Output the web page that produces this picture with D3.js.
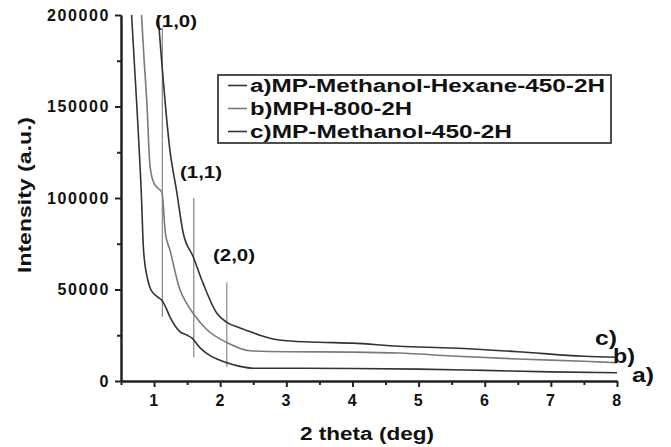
<!doctype html>
<html>
<head>
<meta charset="utf-8" />
<title>XRD</title>
<script src="https://cdn.jsdelivr.net/npm/d3@7"></script>
<style>
  html, body { margin: 0; padding: 0; background: #fff; }
  svg { display: block; }
  text { font-family: "Liberation Sans", Arial, sans-serif; font-weight: bold; fill: #111; }
</style>
</head>
<body>
<svg id="chart" width="671" height="447"></svg>
<script>
// values: [2 theta, intensity]
var curveA = [[0.66,200000],[0.74,150000],[0.81,100000],[0.84,72000],[0.90,56000],[0.95,50000],[1.05,46000],
  [1.12,44000],[1.18,40000],[1.24,35000],[1.39,27000],[1.5,25000],[1.57,23500],[1.7,18000],[1.8,15000],
  [1.95,12000],[2.1,10000],[2.3,8000],[2.5,7000],[3,7000],[4,6800],[5,6500],[6,5800],[7,5000],[8,4500]];
var curveB = [[0.81,200000],[0.85,175000],[0.89,153000],[0.94,117000],[1.0,108000],[1.04,106000],[1.12,103000],
  [1.17,81000],[1.24,71600],[1.39,50000],[1.5,42000],[1.59,37000],[1.8,28000],[2.1,21000],[2.45,16500],
  [3,16000],[4,15800],[4.7,15300],[5.5,13700],[6.5,12000],[7.5,10800],[8,10000]];
var curveC = [[1.06,200000],[1.11,177000],[1.24,126000],[1.34,104000],[1.44,81000],[1.59,68000],[1.74,53500],
  [1.95,37000],[2.1,32000],[2.3,29000],[2.45,27000],[2.6,25000],[2.8,23000],[3.0,22000],[3.5,21200],[4,20700],
  [4.7,19000],[5.5,18000],[6.5,16000],[7.5,13500],[8,13000]];
// peak markers: position, top, bottom, label
var peaks = [[1.125,193000,35000,"(1,0)"],[1.6,100000,13000,"(1,1)"],[2.1,54000,7600,"(2,0)"]];
var legendNames = ["a)MP-Methanol-Hexane-450-2H","b)MPH-800-2H","c)MP-Methanol-450-2H"];
var endLabels = ["a)","b)","c)"];
var xTicks = [1,2,3,4,5,6,7,8];
var yTicks = [0,50000,100000,150000,200000];

var svg = d3.select("#chart");
var x = d3.scaleLinear().domain([0.5, 8]).range([121, 617]);
var y = d3.scaleLinear().domain([0, 200000]).range([381, 15]);

var line = d3.line()
  .x(function(d){ return x(d[0]); })
  .y(function(d){ return y(d[1]); })
  .curve(d3.curveMonotoneX);

// peak lines first, curves over them
svg.selectAll(".peak").data(peaks).enter().append("line")
  .attr("x1", function(d){ return x(d[0]); }).attr("x2", function(d){ return x(d[0]); })
  .attr("y1", function(d){ return y(d[1]); }).attr("y2", function(d){ return y(d[2]); })
  .attr("stroke", "#888").attr("stroke-width", 1.2);

var colors = ["#333", "#7a7a7a", "#333"];
[curveA, curveB, curveC].forEach(function(c, i){
  svg.append("path").attr("d", line(c))
    .attr("fill", "none").attr("stroke", colors[i]).attr("stroke-width", 1.6);
});

// axes
var yAxis = svg.append("g").attr("transform", "translate(121,0)")
  .call(d3.axisLeft(y).tickValues(yTicks).tickFormat(d3.format("d")).tickSize(6).tickSizeOuter(0).tickPadding(5));
var yMinor = svg.append("g").attr("transform", "translate(121,0)")
  .call(d3.axisLeft(y).tickValues([25000,75000,125000,175000]).tickFormat("").tickSize(4).tickSizeOuter(0));
var xAxis = svg.append("g").attr("transform", "translate(0,381)")
  .call(d3.axisBottom(x).tickValues(xTicks).tickSize(6).tickSizeOuter(0).tickPadding(8));
var xMinor = svg.append("g").attr("transform", "translate(0,381)")
  .call(d3.axisBottom(x).tickValues([0.5,1.5,2.5,3.5,4.5,5.5,6.5,7.5]).tickFormat("").tickSize(4).tickSizeOuter(0));
svg.selectAll(".domain, .tick line").attr("stroke", "#222").attr("stroke-width", 2);
svg.selectAll(".tick text").attr("font-size", 16).attr("fill", "#111")
  .style("letter-spacing", "1.6px");

// axis titles
svg.append("text").attr("x", 367).attr("y", 440).attr("text-anchor", "middle")
  .attr("font-size", 18).attr("textLength", 134).attr("lengthAdjust", "spacingAndGlyphs")
  .text("2 theta (deg)");
svg.append("text").attr("transform", "translate(31,195) rotate(-90)").attr("text-anchor", "middle")
  .attr("font-size", 18).attr("textLength", 156).attr("lengthAdjust", "spacingAndGlyphs")
  .text("Intensity (a.u.)");

// peak labels
var peakLabelPos = [[155,27],[180,178],[213,261]];
peaks.forEach(function(p, i){
  svg.append("text").attr("x", peakLabelPos[i][0]).attr("y", peakLabelPos[i][1])
    .attr("font-size", 16).attr("textLength", 42).attr("lengthAdjust", "spacingAndGlyphs").text(p[3]);
});

// legend
svg.append("rect").attr("x", 218).attr("y", 75).attr("width", 393).attr("height", 68)
  .attr("fill", "#fff").attr("stroke", "#222").attr("stroke-width", 1.6);
var legendWidths = [355, 162, 262];
legendNames.forEach(function(n, i){
  var base = 92 + i * 23;
  svg.append("line").attr("x1", 228).attr("x2", 247).attr("y1", base - 6.5).attr("y2", base - 6.5)
    .attr("stroke", colors[i]).attr("stroke-width", 1.6);
  svg.append("text").attr("x", 250).attr("y", base).attr("font-size", 18)
    .attr("textLength", legendWidths[i]).attr("lengthAdjust", "spacingAndGlyphs").text(n);
});

// end labels
var endPos = [[632,382],[613,363],[595,345]];
endLabels.forEach(function(t, i){
  svg.append("text").attr("x", endPos[i][0]).attr("y", endPos[i][1]).attr("font-size", 20)
    .attr("textLength", 22).attr("lengthAdjust", "spacingAndGlyphs").text(t);
});
</script>
</body>
</html>
